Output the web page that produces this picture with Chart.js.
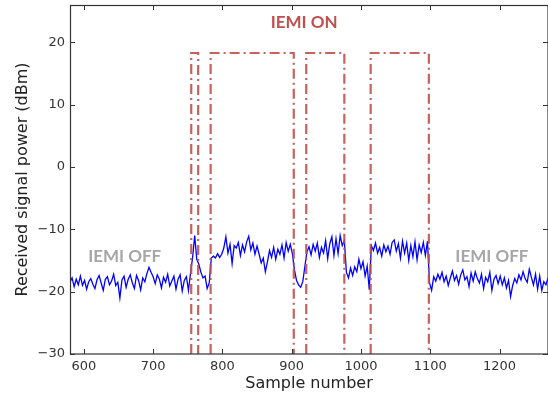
<!DOCTYPE html>
<html>
<head>
<meta charset="utf-8">
<script src="https://cdn.jsdelivr.net/npm/chart.js@4/dist/chart.umd.min.js"></script>
<style>
  html, body { margin: 0; padding: 0; background: #fff; }
  #wrap { width: 548px; height: 397px; }
</style>
</head>
<body>
<div id="wrap"><canvas id="chart"></canvas></div>
<script>
// ===== Data =====
const firstSample = 580;
const sampleStep = 3;

// received power in dBm, one value every 3 samples starting at 580
const power = [
  -18.5, -17.8, -19.2, -18.0, -18.9, -17.5, -19.0, -18.2, -19.6, -18.4, // 580
  -17.9, -18.8, -19.5, -18.1, -17.4, -18.6, -19.8, -18.0, -17.6, -18.9, // 610
  -18.3, -17.2, -19.0, -18.5, -21.0, -18.1, -17.5, -19.3, -18.0, -17.3, // 640
  -18.6, -19.5, -17.4, -18.2, -19.7, -17.8, -18.4, -17.1, -16.1, -16.9, // 670
  -17.6, -18.7, -17.3, -18.0, -19.4, -17.7, -18.5, -17.2, -19.1, -18.3, // 700
  -17.5, -19.6, -18.0, -17.3, -19.9, -18.2, -17.6, -19.8, -17.0, -14.5, // 730
  -11.0, -14.8, -15.6, -16.9, -17.8, -17.5, -19.5, -18.6, -14.6, -14.3, // 760
  -14.6, -13.9, -14.5, -14.0, -13.0, -11.2, -13.8, -12.4, -15.5, -12.6, // 790
  -13.0, -12.1, -14.2, -12.5, -13.6, -12.0, -11.1, -13.3, -12.2, -14.0, // 820
  -12.7, -14.0, -15.4, -14.6, -16.8, -15.2, -13.4, -14.5, -12.9, -14.8, // 850
  -13.2, -14.0, -12.5, -14.6, -12.1, -13.5, -12.4, -13.9, -16.5, -18.2, // 880
  -18.9, -19.3, -18.4, -16.0, -13.6, -12.8, -14.1, -12.4, -13.5, -12.2, // 910
  -14.5, -12.9, -13.8, -11.8, -14.7, -12.3, -11.2, -14.2, -11.5, -13.9, // 940
  -11.0, -12.6, -11.8, -16.9, -17.8, -16.2, -17.4, -16.0, -16.8, -14.8, // 970
  -16.3, -15.2, -17.5, -15.9, -19.7, -12.6, -13.4, -12.2, -13.8, -12.9, // 1000
  -14.3, -12.5, -13.6, -12.7, -14.0, -12.1, -11.7, -13.5, -12.3, -14.6, // 1030
  -11.9, -13.8, -12.2, -15.0, -12.6, -14.4, -12.0, -14.9, -12.5, -13.7, // 1060
  -12.1, -14.2, -11.9, -18.6, -19.8, -17.6, -18.3, -17.2, -18.0, -16.9, // 1090
  -18.4, -17.5, -19.0, -17.8, -16.7, -18.2, -17.4, -18.8, -17.3, -16.5, // 1120
  -18.1, -17.6, -19.2, -17.0, -18.3, -16.8, -17.9, -18.6, -17.2, -19.5, // 1150
  -17.7, -18.4, -16.9, -19.8, -18.0, -17.4, -18.7, -17.5, -18.9, -17.8, // 1180
  -19.4, -18.2, -20.8, -19.0, -17.9, -18.6, -17.3, -18.1, -16.8, -17.9, // 1210
  -18.5, -16.4, -17.7, -18.9, -17.2, -19.6, -17.5, -19.8, -18.4, -18.9, // 1240
  -17.8,                                                                // 1270
];

// IEMI ON windows (sample numbers)
const onStart = [755, 783, 921, 1014];
const onEnd = [765, 903, 976, 1098];
const onLevel = 18.3;
const floorLevel = -30;

const xTicks = [600, 700, 800, 900, 1000, 1100, 1200];
const yTicks = [-30, -20, -10, 0, 10, 20];

const RED = '#c0504d';
const GREY_TEXT = '#a6a6a6';
const AXIS_FONT = 'DejaVu Sans';

// ===== Datasets =====
function signalDataset() {
  return {
    label: 'signal',
    data: power.map((v, i) => ({ x: firstSample + i * sampleStep, y: v })),
    borderColor: '#0000ff',
    borderWidth: 1.3,
    pointRadius: 0,
    tension: 0,
    order: 1,
  };
}

function windowDatasets() {
  return onStart.map((s, i) => ({
    label: 'on' + i,
    data: [
      { x: s, y: floorLevel },
      { x: s, y: onLevel },
      { x: onEnd[i], y: onLevel },
      { x: onEnd[i], y: floorLevel },
    ],
    borderColor: 'rgba(192, 80, 77, 0.9)',
    borderWidth: 2.2,
    borderDash: [10, 4, 2, 4],
    pointRadius: 0,
    tension: 0,
    order: 0,
  }));
}

// ===== Frame with inward ticks (matplotlib look) =====
const frameTicks = {
  id: 'frameTicks',
  afterDatasetsDraw(chart) {
    const { ctx, chartArea: a, scales: { x, y } } = chart;
    const len = 5;
    ctx.save();
    ctx.strokeStyle = '#333';
    ctx.lineWidth = 1;
    ctx.beginPath();
    xTicks.forEach((v) => {
      const px = Math.round(x.getPixelForValue(v)) + 0.5;
      ctx.moveTo(px, a.bottom);
      ctx.lineTo(px, a.bottom - len);
      ctx.moveTo(px, a.top);
      ctx.lineTo(px, a.top + len);
    });
    yTicks.forEach((v) => {
      const py = Math.round(y.getPixelForValue(v)) + 0.5;
      ctx.moveTo(a.left, py);
      ctx.lineTo(a.left + len, py);
      ctx.moveTo(a.right, py);
      ctx.lineTo(a.right - len, py);
    });
    ctx.stroke();
    ctx.lineWidth = 1.2;
    ctx.strokeRect(a.left + 0.5, a.top + 0.5, a.right - a.left - 0.5, a.bottom - a.top - 0.5);
    ctx.restore();
  },
};

// ===== Text notes inside the plot =====
const notes = [
  { text: 'IEMI ON', x: 918, y: 23.2, color: RED },
  { text: 'IEMI OFF', x: 659, y: -14.3, color: GREY_TEXT },
  { text: 'IEMI OFF', x: 1189, y: -14.3, color: GREY_TEXT },
];

const plotNotes = {
  id: 'plotNotes',
  afterDatasetsDraw(chart) {
    const { ctx, scales: { x, y } } = chart;
    ctx.save();
    ctx.font = 'bold 17px Lato';
    ctx.textAlign = 'center';
    ctx.textBaseline = 'middle';
    notes.forEach((n) => {
      ctx.fillStyle = n.color;
      ctx.fillText(n.text, x.getPixelForValue(n.x), y.getPixelForValue(n.y));
    });
    ctx.restore();
  },
};

const minus = (v) => String(v).replace('-', '\u2212');

// ===== Chart =====
function renderChart() {
  const canvas = document.getElementById('chart');

  new Chart(canvas, {
    type: 'line',
    data: { datasets: [...windowDatasets(), signalDataset()] },
    options: {
      responsive: true,
      maintainAspectRatio: false,
      animation: false,
      layout: { padding: { top: 5, right: 0, bottom: 0, left: 0 } },
      plugins: {
        legend: { display: false },
        tooltip: { enabled: false },
      },
      scales: {
        x: {
          type: 'linear',
          min: 580,
          max: 1270,
          grid: { display: false, drawTicks: false },
          border: { display: false },
          afterBuildTicks: (s) => { s.ticks = xTicks.map((v) => ({ value: v })); },
          afterFit: (s) => { s.height = 43; s.paddingLeft = 0; s.paddingRight = 0; },
          ticks: {
            padding: 5,
            maxRotation: 0,
            color: '#333',
            font: { family: AXIS_FONT, size: 13 },
            callback: (v) => minus(v),
          },
          title: {
            display: true,
            text: 'Sample number',
            color: '#222',
            font: { family: AXIS_FONT, size: 16 },
            padding: { top: 0, bottom: 4 },
          },
        },
        y: {
          min: -30,
          max: 26,
          grid: { display: false, drawTicks: false },
          border: { display: false },
          afterBuildTicks: (s) => { s.ticks = yTicks.map((v) => ({ value: v })); },
          afterFit: (s) => { s.width = 70; s.paddingTop = 0; s.paddingBottom = 0; },
          ticks: {
            padding: 5,
            color: '#333',
            font: { family: AXIS_FONT, size: 13 },
            callback: (v) => minus(v),
          },
          title: {
            display: true,
            text: 'Received signal power (dBm)',
            color: '#222',
            font: { family: AXIS_FONT, size: 16 },
            padding: { top: 13, bottom: 0 },
          },
        },
      },
    },
    plugins: [frameTicks, plotNotes],
  });
}

document.addEventListener('DOMContentLoaded', renderChart);
</script>
</body>
</html>
